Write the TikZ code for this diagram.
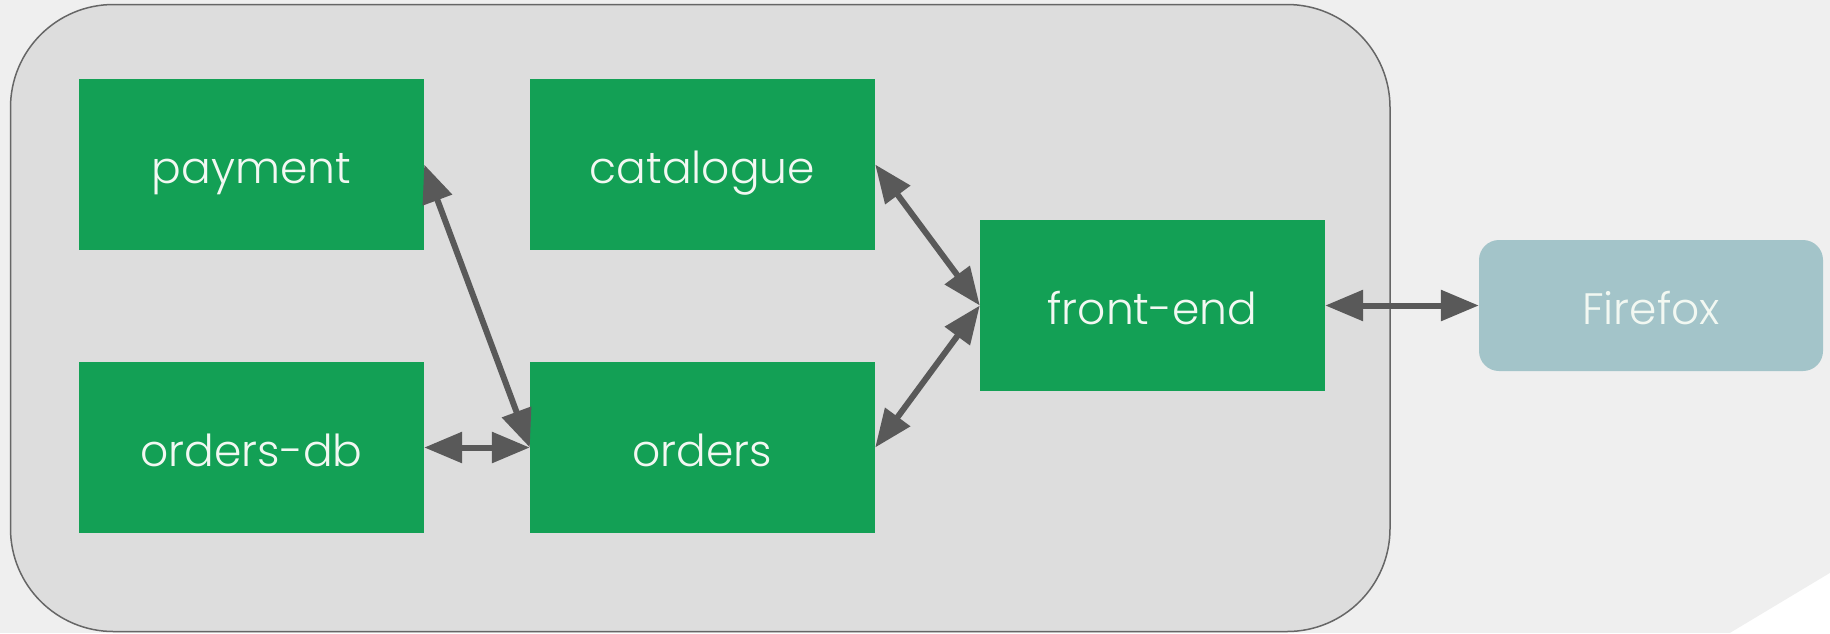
\documentclass[tikz,border=0pt]{standalone}
\usepackage{fontspec}
\IfFontExistsTF{Poppins Light}{\setmainfont{Poppins Light}}{\setmainfont{Poppins}}
\usetikzlibrary{arrows.meta}
\definecolor{bgc}{HTML}{EFEFEF}
\definecolor{panel}{HTML}{DDDDDD}
\definecolor{panelline}{HTML}{666666}
\definecolor{svcgreen}{HTML}{13A055}
\definecolor{ffblue}{HTML}{A3C4C9}
\definecolor{arrowc}{HTML}{595959}
\definecolor{txt}{HTML}{F2F8F2}
\tikzset{
  svc/.style={fill=svcgreen, draw=none, minimum width=345pt, minimum height=171pt, inner sep=0pt,
    text=txt, font=\fontsize{44}{52}\selectfont, text height=38pt, text depth=0pt},
  client/.style={fill=ffblue, draw=none, rounded corners=20pt, minimum width=344pt, minimum height=131pt,
    inner sep=0pt, text=txt, font=\fontsize{44}{52}\selectfont, text height=38pt, text depth=0pt},
  conn/.style={draw=arrowc, line width=6pt, {Triangle[length=38pt,width=30pt]}-{Triangle[length=38pt,width=30pt]}}
}
\begin{document}
\begin{tikzpicture}[x=1pt,y=-1pt]
\useasboundingbox (0,0) rectangle (1830,633);
\fill[bgc] (0,0) rectangle (1830,633);
\fill[white] (1730,633) -- (1830,573) -- (1830,633) -- cycle;
\draw[fill=panel, draw=panelline, line width=1.5pt, rounded corners=103pt] (10.5,4.5) rectangle (1390,631.5);
\node[svc] (payment) at (251.5,164.5) {payment};
\node[svc] (catalogue) at (702.5,164.5) {catalogue};
\node[svc] (ordersdb) at (251.5,447.5) {orders-db};
\node[svc] (orders) at (702.5,447.5) {orders};
\node[svc] (frontend) at (1152.5,305.5) {front-end};
\node[client] (firefox) at (1651,305.5) {Firefox};
\draw[conn] (payment.east) -- (orders.west);
\draw[conn] (ordersdb.east) -- (orders.west);
\draw[conn] (catalogue.east) -- (frontend.west);
\draw[conn] (orders.east) -- (frontend.west);
\draw[conn] (frontend.east) -- (firefox.west);
\end{tikzpicture}
\end{document}
